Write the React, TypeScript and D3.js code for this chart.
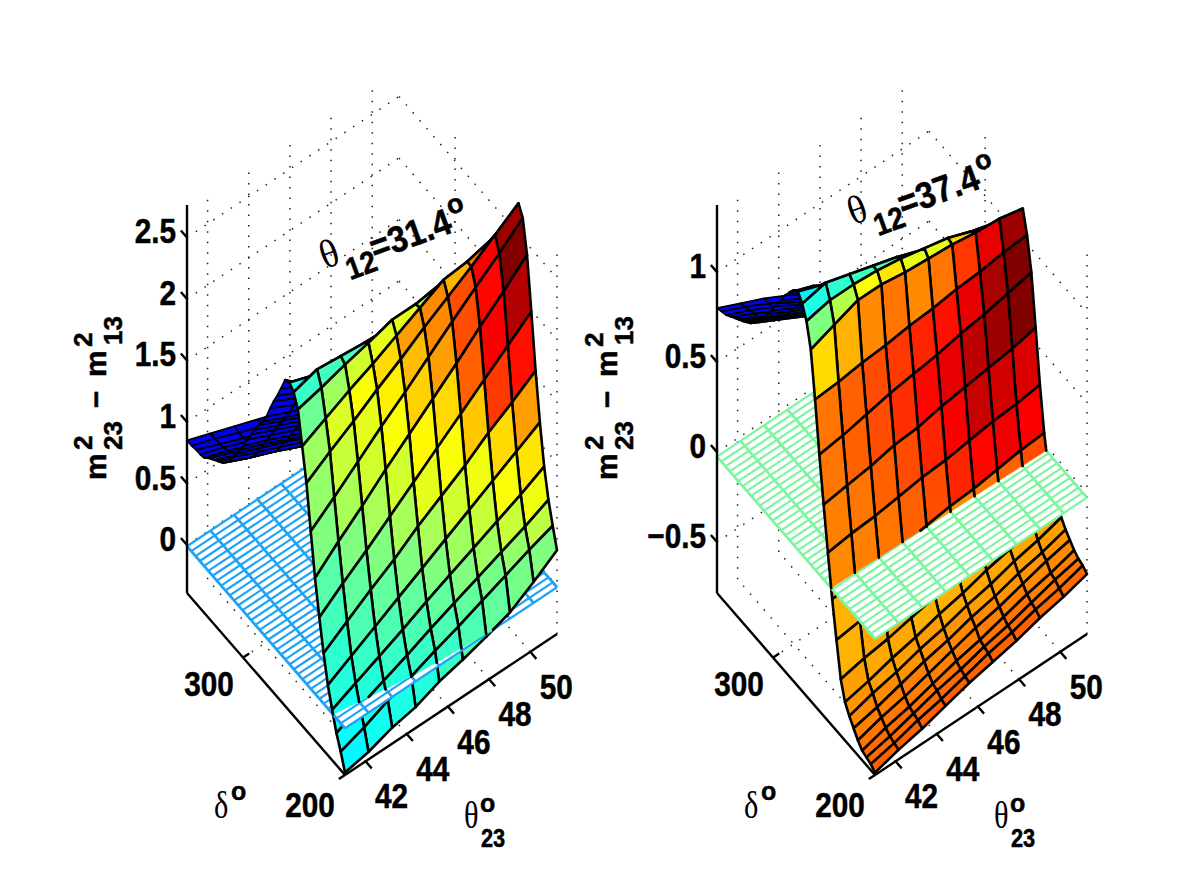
import { useEffect, useRef } from 'react';
import * as d3 from 'd3';

// theta23 and delta sample points of the mesh
const thetaGrid = [41, 42.14, 43.29, 44.43, 45.58, 46.72, 47.87, 49.01, 50.16, 51.3];
const deltaNear = [200, 204.2, 208.4, 212.6, 216.8, 221, 225.2, 229.4, 233.6, 237.8, 242, 246.2, 250.4, 254.6, 258.8];
const deltaFarLeft = [263, 266.5, 270, 273.5, 277, 281, 285, 288.5, 292, 296, 300, 303, 306, 309.5, 313, 316.5, 320, 324.5, 329, 333.5, 338, 342, 346, 350.5, 355];
const deltaFarRight = [263, 267.2, 271.4, 275.6, 279.8, 284, 288, 291.5, 295, 298.5, 302, 305.5, 309, 312.5, 316, 319, 322, 326, 330, 333.5, 337, 341.5, 346, 350.5, 355];

const zLeft = [
  [-0.37, -0.33, -0.26, -0.22, -0.14, -0.09, -0.03, 0.04, 0.16, 0.29],
  [-0.24, -0.17, -0.08, -0.01, 0.07, 0.14, 0.22, 0.3, 0.38, 0.45],
  [-0.13, -0.04, 0.04, 0.12, 0.21, 0.29, 0.37, 0.45, 0.53, 0.62],
  [0.02, 0.11, 0.2, 0.29, 0.39, 0.48, 0.57, 0.66, 0.75, 0.85],
  [0.18, 0.29, 0.4, 0.51, 0.62, 0.73, 0.84, 0.95, 1.06, 1.17],
  [0.4, 0.53, 0.66, 0.78, 0.92, 1.04, 1.16, 1.3, 1.42, 1.55],
  [0.65, 0.8, 0.94, 1.09, 1.24, 1.39, 1.54, 1.69, 1.84, 1.99],
  [0.93, 1.1, 1.26, 1.43, 1.59, 1.75, 1.91, 2.08, 2.24, 2.41],
  [1.27, 1.42, 1.58, 1.74, 1.89, 2.05, 2.21, 2.36, 2.51, 2.67],
  [1.62, 1.75, 1.87, 2.0, 2.12, 2.25, 2.37, 2.49, 2.62, 2.75],
  [1.88, 1.98, 2.08, 2.17, 2.27, 2.37, 2.47, 2.49, 2.54, 2.61],
  [2.14, 2.19, 2.25, 2.3, 2.36, 2.36, 2.39, 2.38, 2.43, 2.49],
  [2.24, 2.3, 2.28, 2.26, 2.25, 2.26, 2.29, 2.29, 2.32, 2.37],
  [2.28, 2.21, 2.17, 2.12, 2.12, 2.11, 2.15, 2.14, 2.17, 2.21],
  [2.26, 2.09, 2.01, 1.94, 1.91, 1.91, 1.94, 1.94, 1.93, 1.97],
  [2.15, 2.05, 1.95, 1.85, 1.75, 1.65, 1.6, 1.55, 1.5, 1.45],
  [2.06, 1.96, 1.87, 1.77, 1.66, 1.55, 1.5, 1.45, 1.4, 1.35],
  [1.98, 1.88, 1.79, 1.69, 1.56, 1.45, 1.38, 1.32, 1.25, 1.2],
  [1.89, 1.79, 1.7, 1.6, 1.45, 1.33, 1.25, 1.2, 1.12, 1.08],
  [1.79, 1.7, 1.61, 1.51, 1.35, 1.2, 1.1, 1.0, 0.95, 0.9],
  [1.71, 1.62, 1.53, 1.44, 1.27, 1.12, 1.02, 0.94, 0.88, 0.84],
  [1.64, 1.55, 1.46, 1.37, 1.2, 1.06, 0.97, 0.88, 0.82, 0.8],
  [1.57, 1.48, 1.39, 1.3, 1.14, 1.0, 0.92, 0.84, 0.78, 0.76],
  [1.5, 1.41, 1.32, 1.23, 1.08, 0.96, 0.88, 0.8, 0.75, 0.73],
  [1.42, 1.33, 1.24, 1.15, 1.02, 0.92, 0.84, 0.77, 0.73, 0.71],
  [1.33, 1.25, 1.16, 1.07, 0.97, 0.88, 0.8, 0.75, 0.71, 0.69],
  [1.27, 1.19, 1.1, 1.01, 0.93, 0.85, 0.78, 0.73, 0.7, 0.68],
  [1.21, 1.13, 1.05, 0.96, 0.9, 0.82, 0.76, 0.72, 0.69, 0.67],
  [1.15, 1.06, 0.98, 0.89, 0.86, 0.8, 0.74, 0.7, 0.67, 0.65],
  [1.08, 0.99, 0.91, 0.82, 0.78, 0.74, 0.69, 0.66, 0.64, 0.62],
  [1.04, 0.95, 0.87, 0.78, 0.76, 0.72, 0.68, 0.65, 0.63, 0.61],
  [1.0, 0.91, 0.83, 0.74, 0.72, 0.7, 0.67, 0.64, 0.62, 0.61],
  [0.97, 0.88, 0.8, 0.71, 0.7, 0.68, 0.66, 0.63, 0.61, 0.6],
  [0.94, 0.85, 0.77, 0.69, 0.68, 0.66, 0.65, 0.62, 0.6, 0.6],
  [0.91, 0.83, 0.75, 0.67, 0.66, 0.65, 0.64, 0.61, 0.6, 0.59],
  [0.87, 0.8, 0.72, 0.64, 0.62, 0.61, 0.6, 0.6, 0.59, 0.59],
  [0.86, 0.79, 0.71, 0.63, 0.6, 0.6, 0.6, 0.59, 0.59, 0.58],
  [0.86, 0.78, 0.7, 0.63, 0.59, 0.59, 0.59, 0.59, 0.58, 0.58],
  [0.85, 0.78, 0.7, 0.63, 0.58, 0.58, 0.58, 0.58, 0.57, 0.57],
  [0.85, 0.78, 0.71, 0.64, 0.57, 0.57, 0.57, 0.57, 0.57, 0.56],
];

const zRight = [
  [-0.77, -0.73, -0.7, -0.66, -0.62, -0.59, -0.56, -0.52, -0.49, -0.45],
  [-0.75, -0.72, -0.68, -0.65, -0.61, -0.57, -0.54, -0.5, -0.47, -0.43],
  [-0.74, -0.71, -0.67, -0.63, -0.6, -0.56, -0.53, -0.49, -0.45, -0.42],
  [-0.73, -0.69, -0.66, -0.62, -0.58, -0.55, -0.51, -0.47, -0.44, -0.4],
  [-0.7, -0.66, -0.63, -0.59, -0.55, -0.51, -0.48, -0.44, -0.4, -0.37],
  [-0.66, -0.63, -0.59, -0.55, -0.52, -0.48, -0.45, -0.41, -0.38, -0.34],
  [-0.62, -0.58, -0.55, -0.51, -0.48, -0.44, -0.41, -0.37, -0.34, -0.3],
  [-0.57, -0.54, -0.5, -0.47, -0.43, -0.4, -0.36, -0.33, -0.29, -0.26],
  [-0.47, -0.44, -0.42, -0.39, -0.36, -0.33, -0.3, -0.27, -0.24, -0.2],
  [-0.28, -0.26, -0.24, -0.22, -0.21, -0.19, -0.17, -0.16, -0.14, -0.12],
  [-0.08, -0.07, -0.05, -0.04, -0.02, 0, 0.01, 0.03, 0.05, 0.06],
  [0.15, 0.17, 0.18, 0.2, 0.22, 0.23, 0.25, 0.27, 0.28, 0.3],
  [0.39, 0.41, 0.43, 0.46, 0.47, 0.5, 0.52, 0.54, 0.56, 0.59],
  [0.64, 0.66, 0.69, 0.72, 0.74, 0.76, 0.79, 0.81, 0.84, 0.87],
  [0.92, 0.93, 0.95, 0.96, 0.98, 0.99, 1.01, 1.02, 1.04, 1.05],
  [1.17, 1.22, 1.27, 1.27, 1.25, 1.24, 1.23, 1.21, 1.2, 1.17],
  [1.3, 1.33, 1.33, 1.32, 1.3, 1.27, 1.24, 1.19, 1.15, 1.12],
  [1.37, 1.4, 1.36, 1.32, 1.28, 1.23, 1.18, 1.14, 1.09, 1.05],
  [1.41, 1.36, 1.3, 1.24, 1.18, 1.12, 1.07, 1.03, 0.99, 0.94],
  [1.39, 1.31, 1.23, 1.16, 1.1, 1.04, 0.99, 0.95, 0.89, 0.86],
  [1.35, 1.3, 1.22, 1.14, 1.0, 0.96, 0.91, 0.87, 0.81, 0.76],
  [1.31, 1.23, 1.16, 1.09, 0.95, 0.85, 0.78, 0.7, 0.64, 0.56],
  [1.26, 1.18, 1.12, 1.05, 0.91, 0.81, 0.75, 0.66, 0.6, 0.53],
  [1.22, 1.14, 1.07, 1.0, 0.88, 0.78, 0.72, 0.63, 0.57, 0.5],
  [1.18, 1.1, 1.03, 0.96, 0.84, 0.74, 0.68, 0.6, 0.53, 0.47],
  [1.13, 1.06, 0.99, 0.92, 0.8, 0.7, 0.64, 0.57, 0.5, 0.45],
  [1.09, 1.02, 0.95, 0.88, 0.76, 0.67, 0.6, 0.54, 0.48, 0.43],
  [1.05, 0.98, 0.91, 0.84, 0.72, 0.63, 0.57, 0.52, 0.47, 0.42],
  [1.02, 0.95, 0.88, 0.81, 0.69, 0.61, 0.55, 0.5, 0.45, 0.4],
  [0.99, 0.92, 0.85, 0.78, 0.66, 0.59, 0.54, 0.49, 0.44, 0.39],
  [0.96, 0.89, 0.82, 0.75, 0.65, 0.58, 0.53, 0.48, 0.43, 0.38],
  [0.93, 0.86, 0.79, 0.72, 0.64, 0.57, 0.52, 0.47, 0.42, 0.37],
  [0.91, 0.84, 0.77, 0.7, 0.62, 0.55, 0.51, 0.46, 0.41, 0.36],
  [0.89, 0.82, 0.75, 0.68, 0.61, 0.54, 0.5, 0.45, 0.4, 0.35],
  [0.875, 0.8, 0.73, 0.66, 0.59, 0.53, 0.49, 0.44, 0.39, 0.34],
  [0.86, 0.78, 0.72, 0.65, 0.58, 0.52, 0.48, 0.43, 0.38, 0.33],
  [0.84, 0.77, 0.7, 0.63, 0.56, 0.51, 0.47, 0.42, 0.37, 0.32],
  [0.82, 0.76, 0.69, 0.62, 0.55, 0.5, 0.47, 0.41, 0.37, 0.32],
  [0.81, 0.75, 0.68, 0.61, 0.54, 0.49, 0.46, 0.4, 0.37, 0.31],
  [0.8, 0.74, 0.68, 0.61, 0.53, 0.49, 0.46, 0.4, 0.37, 0.31],
];

// colour level of each cell (0..1 on the jet map), rows past the table are the blue back side
const colorLeft = [
  [0.37, 0.39, 0.4, 0.41, 0.43, 0.45, 0.47, 0.49, 0.5],
  [0.38, 0.4, 0.41, 0.43, 0.45, 0.47, 0.49, 0.52, 0.56],
  [0.39, 0.41, 0.43, 0.45, 0.47, 0.5, 0.53, 0.57, 0.61],
  [0.41, 0.43, 0.45, 0.47, 0.5, 0.53, 0.57, 0.62, 0.65],
  [0.42, 0.45, 0.47, 0.5, 0.54, 0.58, 0.61, 0.66, 0.72],
  [0.44, 0.47, 0.5, 0.54, 0.6, 0.62, 0.68, 0.82, 0.86],
  [0.46, 0.5, 0.54, 0.58, 0.63, 0.66, 0.78, 0.88, 0.95],
  [0.5, 0.54, 0.58, 0.62, 0.67, 0.72, 0.8, 0.87, 1.0],
  [0.52, 0.57, 0.6, 0.64, 0.69, 0.74, 0.8, 0.88, 0.97],
  [0.53, 0.59, 0.62, 0.66, 0.72, 0.74, 0.7, 0.76, 0.82],
  [0.48, 0.53, 0.58, 0.6, 0.6, 0.55, 0.5, 0.55, 0.6],
  [0.43, 0.44, 0.44, 0.44, 0.42, 0.4, 0.4, 0.4, 0.4],
  [0.4, 0.38, 0.38, 0.38, 0.38, 0.38, 0.38, 0.38, 0.38],
  [0.38, 0.38, 0.38, 0.38, 0.38, 0.38, 0.38, 0.38, 0.38],
];

const colorRight = [
  [0.78, 0.78, 0.78, 0.78, 0.78, 0.78, 0.78, 0.77, 0.77],
  [0.77, 0.77, 0.77, 0.77, 0.77, 0.77, 0.77, 0.76, 0.76],
  [0.77, 0.77, 0.76, 0.76, 0.76, 0.76, 0.76, 0.75, 0.75],
  [0.76, 0.76, 0.75, 0.75, 0.75, 0.75, 0.75, 0.74, 0.74],
  [0.75, 0.75, 0.75, 0.74, 0.74, 0.74, 0.73, 0.73, 0.73],
  [0.74, 0.74, 0.73, 0.73, 0.73, 0.72, 0.72, 0.72, 0.72],
  [0.73, 0.72, 0.72, 0.72, 0.71, 0.71, 0.71, 0.71, 0.71],
  [0.72, 0.71, 0.71, 0.7, 0.7, 0.7, 0.71, 0.72, 0.72],
  [0.7, 0.71, 0.71, 0.71, 0.71, 0.72, 0.73, 0.74, 0.74],
  [0.7, 0.72, 0.72, 0.73, 0.73, 0.74, 0.76, 0.78, 0.8],
  [0.74, 0.75, 0.76, 0.78, 0.8, 0.84, 0.87, 0.89, 0.88],
  [0.75, 0.76, 0.78, 0.8, 0.84, 0.88, 0.93, 0.92, 0.91],
  [0.76, 0.78, 0.8, 0.83, 0.87, 0.9, 0.94, 0.97, 1.0],
  [0.76, 0.78, 0.8, 0.82, 0.84, 0.86, 0.9, 0.96, 1.0],
  [0.66, 0.7, 0.74, 0.76, 0.74, 0.76, 0.82, 0.9, 0.97],
  [0.5, 0.55, 0.62, 0.65, 0.6, 0.6, 0.66, 0.78, 0.8],
  [0.4, 0.42, 0.44, 0.44, 0.42, 0.42, 0.5, 0.6, 0.62],
  [0.36, 0.36, 0.36, 0.36, 0.36, 0.36, 0.36, 0.36, 0.36],
  [0.33, 0.33, 0.33, 0.33, 0.33, 0.33, 0.33, 0.33, 0.33],
  [0.3, 0.3, 0.3, 0.3, 0.3, 0.3, 0.3, 0.3, 0.3],
];
const backLevel = 0.115;

const thetaTicks = [42, 44, 46, 48, 50];
const deltaTicks = [200, 300];
const zTicksLeft = [0, 0.5, 1, 1.5, 2, 2.5];
const zTicksRight = [-0.5, 0, 0.5, 1];

const thetaExtent: [number, number] = [41, 51.3];
const deltaExtent: [number, number] = [200, 355];

const jet = d3.scaleLinear<string>()
  .domain([0, 0.125, 0.375, 0.625, 0.875, 1])
  .range(['#000080', '#0000ff', '#00ffff', '#ffff00', '#ff0000', '#800000']);

const thetaDx = d3.scaleLinear().domain(thetaExtent).range([0, 212]);
const thetaDy = d3.scaleLinear().domain(thetaExtent).range([0, -141]);
const deltaDx = d3.scaleLinear().domain(deltaExtent).range([0, -158]);
const deltaDy = d3.scaleLinear().domain(deltaExtent).range([0, -182]);

const SANS = '"Liberation Sans", Arial, sans-serif';
const SERIF = '"Liberation Serif", serif';

type V = { t: number; d: number; z: number };

// keep only the part of a quad on one side of the flat sheet
function clipPoly(vs: V[], upper: boolean, level: number): V[] {
  const inside = (v: V) => (upper ? v.z >= level : v.z <= level);
  const out: V[] = [];
  vs.forEach((a, i) => {
    const b = vs[(i + 1) % vs.length];
    if (inside(a)) out.push(a);
    if (inside(a) !== inside(b)) {
      const f = (a.z - level) / (a.z - b.z);
      out.push({ t: a.t + (b.t - a.t) * f, d: a.d + (b.d - a.d) * f, z: level });
    }
  });
  return out;
}

function clipSeg(a: V, b: V, upper: boolean, level: number): V[] | null {
  const inside = (v: V) => (upper ? v.z >= level : v.z <= level);
  if (inside(a) && inside(b)) return [a, b];
  if (!inside(a) && !inside(b)) return null;
  const f = (a.z - level) / (a.z - b.z);
  const m = { t: a.t + (b.t - a.t) * f, d: a.d + (b.d - a.d) * f, z: level };
  return inside(a) ? [a, m] : [m, b];
}

type PanelConfig = {
  x0: number;
  zDomain: [number, number];
  zTicks: number[];
  zValues: number[][];
  colors: number[][];
  deltas: number[];
  sheetLevel: number;
  planeColor: string;
  title: string;
  titleAt: [number, number];
  labelX: number;
};

function text(
  g: d3.Selection<SVGGElement, unknown, null, undefined>,
  str: string,
  x: number,
  y: number,
  size: number,
  opts: { sx?: number; anchor?: string; serif?: boolean } = {},
) {
  g.append('text')
    .attr('transform', `translate(${x},${y}) scale(${opts.sx ?? 0.85},1)`)
    .attr('text-anchor', opts.anchor ?? 'start')
    .attr('font-family', opts.serif ? SERIF : SANS)
    .attr('font-weight', opts.serif ? 'normal' : 'bold')
    .attr('font-size', size)
    .attr('fill', '#000')
    .attr('stroke', '#000')
    .attr('stroke-width', opts.serif ? 0 : 0.5)
    .text(str);
}

function drawPanel(root: d3.Selection<SVGSVGElement, unknown, null, undefined>, cfg: PanelConfig) {
  const g = root.append('g');
  const y0 = 775;
  const zDy = d3.scaleLinear().domain(cfg.zDomain).range([0, -388]);

  const px = (t: number, d: number) => cfg.x0 + thetaDx(t) + deltaDx(d);
  const py = (t: number, d: number, z: number) => y0 + thetaDy(t) + deltaDy(d) + zDy(z);
  const line = d3.line<V>().x((v) => px(v.t, v.d)).y((v) => py(v.t, v.d, v.z));
  const [zMin, zMax] = cfg.zDomain;
  const [tMin, tMax] = thetaExtent;
  const [dMin, dMax] = deltaExtent;

  // dotted grid on the floor and the two back walls
  const grid: V[][] = [];
  thetaTicks.forEach((t) => {
    grid.push([{ t, d: dMin, z: zMin }, { t, d: dMax, z: zMin }]);
    grid.push([{ t, d: dMax, z: zMin }, { t, d: dMax, z: zMax }]);
  });
  deltaTicks.forEach((d) => {
    grid.push([{ t: tMin, d, z: zMin }, { t: tMax, d, z: zMin }]);
    grid.push([{ t: tMax, d, z: zMin }, { t: tMax, d, z: zMax }]);
  });
  cfg.zTicks.forEach((z) => {
    grid.push([{ t: tMin, d: dMax, z }, { t: tMax, d: dMax, z }]);
    grid.push([{ t: tMax, d: dMax, z }, { t: tMax, d: dMin, z }]);
  });
  g.append('g').selectAll('path').data(grid).join('path')
    .attr('d', (s) => line(s))
    .attr('fill', 'none')
    .attr('stroke', '#222')
    .attr('stroke-width', 1.5)
    .attr('stroke-dasharray', '1.5 9');

  // quads, far rows first, so the near face paints over the back side
  type Quad = { vs: V[]; level: number; thin: boolean };
  const quads: Quad[] = [];
  for (let i = cfg.deltas.length - 2; i >= 0; i--) {
    for (let k = thetaGrid.length - 2; k >= 0; k--) {
      const v = (r: number, c: number): V => ({ t: thetaGrid[c], d: cfg.deltas[r], z: cfg.zValues[r][c] });
      quads.push({
        vs: [v(i, k), v(i, k + 1), v(i + 1, k + 1), v(i + 1, k)],
        level: cfg.colors[i]?.[k] ?? backLevel,
        thin: i >= cfg.colors.length,
      });
    }
  }

  const drawSurface = (upper: boolean) => {
    const layer = g.append('g');
    quads.forEach((q) => {
      const poly = clipPoly(q.vs, upper, cfg.sheetLevel);
      if (poly.length < 3) return;
      const fill = jet(q.level);
      layer.append('path')
        .attr('d', line(poly) + 'Z')
        .attr('fill', fill)
        .attr('stroke', fill)
        .attr('stroke-width', 0.5);
      const edges = q.vs
        .map((a, n) => clipSeg(a, q.vs[(n + 1) % 4], upper, cfg.sheetLevel))
        .filter((s): s is V[] => s !== null)
        .map((s) => line(s))
        .join('');
      layer.append('path')
        .attr('d', edges)
        .attr('fill', 'none')
        .attr('stroke', '#000')
        .attr('stroke-width', q.thin ? 1.8 : 2.6)
        .attr('stroke-linecap', 'round');
    });
  };

  drawSurface(false);

  // the flat sheet, white cells with coloured wires
  const z0 = cfg.sheetLevel;
  const planeRows = d3.range(38).map((n) => dMin + ((dMax - dMin) * n) / 37);
  const sheet = g.append('g');
  sheet.append('path')
    .attr('d', line([
      { t: tMin, d: dMin, z: z0 }, { t: tMax, d: dMin, z: z0 },
      { t: tMax, d: dMax, z: z0 }, { t: tMin, d: dMax, z: z0 },
    ]) + 'Z')
    .attr('fill', '#fff');
  sheet.selectAll('path.row').data(planeRows).join('path')
    .attr('class', 'row')
    .attr('d', (d) => line([{ t: tMin, d, z: z0 }, { t: tMax, d, z: z0 }]))
    .attr('stroke', cfg.planeColor)
    .attr('stroke-width', 2.2)
    .attr('fill', 'none');
  sheet.selectAll('path.col').data(thetaGrid).join('path')
    .attr('class', 'col')
    .attr('d', (t) => line([{ t, d: dMin, z: z0 }, { t, d: dMax, z: z0 }]))
    .attr('stroke', cfg.planeColor)
    .attr('stroke-width', 2.7)
    .attr('fill', 'none');

  drawSurface(true);

  // box axes
  const axes: V[][] = [
    [{ t: tMin, d: dMax, z: zMin }, { t: tMin, d: dMax, z: zMax }],
    [{ t: tMin, d: dMin, z: zMin }, { t: tMin, d: dMax, z: zMin }],
    [{ t: tMin, d: dMin, z: zMin }, { t: tMax, d: dMin, z: zMin }],
  ];
  cfg.zTicks.forEach((z) => axes.push([{ t: tMin, d: dMax, z }, { t: tMin, d: dMax + 6, z }]));
  thetaTicks.forEach((t) => axes.push([{ t, d: dMin, z: zMin }, { t, d: dMin - 6, z: zMin }]));
  axes.push([{ t: tMin, d: 300, z: zMin }, { t: tMin + 0.3, d: 300, z: zMin }]);
  axes.push([{ t: tMin, d: dMin, z: zMin }, { t: tMin - 0.3, d: dMin, z: zMin }]);
  g.append('g').selectAll('path').data(axes).join('path')
    .attr('d', (s) => line(s))
    .attr('fill', 'none')
    .attr('stroke', '#000')
    .attr('stroke-width', 2.4);

  // tick labels
  const labels = g.append('g');
  cfg.zTicks.forEach((z) => {
    const s = z < 0 ? `\u2212${Math.abs(z)}` : `${z}`;
    text(labels, s, px(tMin, dMax) - 11, py(tMin, dMax, z) + 6, 35, { anchor: 'end' });
  });
  thetaTicks.forEach((t) => {
    text(labels, `${t}`, px(t, dMin) + 26, py(t, dMin, zMin) + 47, 35, { anchor: 'middle' });
  });
  text(labels, '300', px(tMin, 300) - 34, py(tMin, 300, zMin) + 38, 35, { anchor: 'middle' });
  text(labels, '200', px(tMin, dMin) - 35, py(tMin, dMin, zMin) + 42, 35, { anchor: 'middle' });

  // z label, reads upward, m^2_23 - m^2_13
  const zLabel = labels.append('g').attr('transform', `translate(${cfg.labelX},480) rotate(-90)`);
  text(zLabel, 'm', 0, 0, 30, { sx: 1 });
  text(zLabel, '23', 30, 16, 26, { sx: 1 });
  text(zLabel, '2', 30, -14, 26, { sx: 1 });
  text(zLabel, '\u2212', 72, 0, 30, { sx: 1 });
  text(zLabel, 'm', 103, 0, 30, { sx: 1 });
  text(zLabel, '13', 135, 16, 26, { sx: 1 });
  text(zLabel, '2', 133, -14, 26, { sx: 1 });

  // panel title
  const title = labels.append('g')
    .attr('transform', `translate(${cfg.titleAt[0]},${cfg.titleAt[1]}) rotate(-20)`);
  text(title, '\u03b8', 2, 0, 40, { serif: true, sx: 0.95 });
  text(title, '12', 22, 19, 31, { sx: 0.9 });
  text(title, `=${cfg.title}`, 52, 9, 37, { sx: 0.9 });
  text(title, 'o', 138, -8, 27, { sx: 1 });

  // delta and theta axis names
  const dx = cfg.x0 - 345;
  text(labels, '\u03b4', 214 + dx, 818, 38, { serif: true, sx: 0.8 });
  text(labels, 'o', 231 + dx, 800, 25, { sx: 1 });
  text(labels, '\u03b8', 464 + dx, 828, 38, { serif: true, sx: 0.8 });
  text(labels, 'o', 480 + dx, 812, 25, { sx: 1 });
  text(labels, '23', 481 + dx, 847, 25, { sx: 0.87 });
}

export default function App() {
  const ref = useRef<SVGSVGElement>(null);

  useEffect(() => {
    if (!ref.current) return;
    const svg = d3.select(ref.current);
    svg.selectAll('*').remove();
    drawPanel(svg, {
      x0: 345,
      zDomain: [-0.39, 2.764],
      zTicks: zTicksLeft,
      zValues: zLeft,
      colors: colorLeft,
      deltas: [...deltaNear, ...deltaFarLeft],
      sheetLevel: -0.01,
      planeColor: '#1fa3f5',
      title: '31.4',
      titleAt: [323, 270],
      labelX: 106,
    });
    drawPanel(svg, {
      x0: 875,
      zDomain: [-0.783, 1.373],
      zTicks: zTicksRight,
      zValues: zRight,
      colors: colorRight,
      deltas: [...deltaNear, ...deltaFarRight],
      sheetLevel: -0.025,
      planeColor: '#7df5a0',
      title: '37.4',
      titleAt: [851, 226],
      labelX: 617,
    });
  }, []);

  return (
    <svg
      ref={ref}
      width={1199}
      height={872}
      style={{ position: 'absolute', left: 0, top: 0, background: '#fff' }}
    />
  );
}
